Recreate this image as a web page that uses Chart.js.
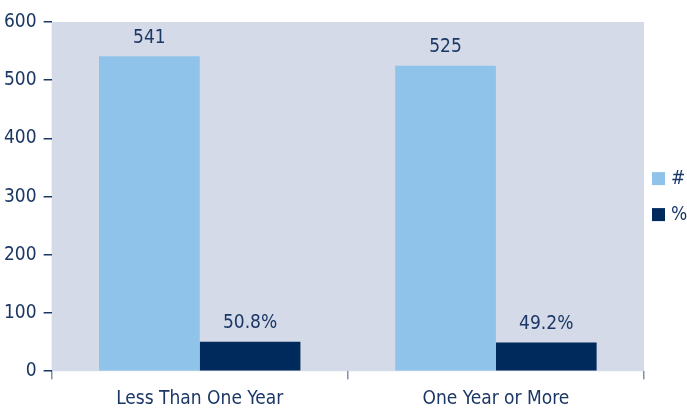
<!DOCTYPE html>
<html><head><meta charset="utf-8">
<script src="https://cdn.jsdelivr.net/npm/chart.js@4/dist/chart.umd.min.js"></script>
<style>html,body{margin:0;padding:0;background:#fff}#wrap{width:687px;height:415px}</style>
</head><body><div id="wrap"><canvas id="c"></canvas></div>
<script>
const categories = ["Less Than One Year", "One Year or More"];
const countValues = [541, 525];
const percentValues = [50.8, 49.2];
const yTicks = [0, 100, 200, 300, 400, 500, 600];
const FONT = "'DejaVu Sans Condensed'";
const NAVY = '#1b3766';

const bgPlugin = {
  id: 'bg',
  beforeDraw(chart) {
    const {ctx, chartArea: a} = chart;
    ctx.save(); ctx.fillStyle = '#d5dae8';
    ctx.fillRect(a.left, a.top, a.right - a.left, a.bottom - a.top);
    ctx.restore();
  }
};
const labelPlugin = {
  id: 'vals',
  afterDatasetsDraw(chart) {
    const ctx = chart.ctx;
    ctx.save();
    ctx.font = "19px " + FONT; ctx.fillStyle = NAVY;
    ctx.textAlign = 'center'; ctx.textBaseline = 'bottom';
    chart.data.datasets.forEach((ds, i) => {
      chart.getDatasetMeta(i).data.forEach((bar, j) => {
        const t = i === 0 ? String(ds.data[j]) : ds.data[j].toFixed(1) + '%';
        ctx.fillText(t, bar.x, bar.y - 9);
      });
    });
    ctx.restore();
  }
};
const legendPlugin = {
  id: 'sideLegend',
  afterDraw(chart) {
    const ctx = chart.ctx, a = chart.chartArea;
    const cy = (a.top + a.bottom) / 2;
    ctx.save();
    ctx.font = "19px " + FONT; ctx.textBaseline = 'middle'; ctx.textAlign = 'left';
    chart.data.datasets.forEach((ds, i) => {
      const y = cy - 18 + i * 36;
      ctx.fillStyle = ds.backgroundColor;
      ctx.fillRect(a.right + 8, y - 6.5, 13, 13);
      ctx.fillStyle = NAVY;
      ctx.fillText(ds.label, a.right + 27, y);
    });
    ctx.restore();
  }
};

new Chart(document.getElementById('c'), {
  type: 'bar',
  data: {
    labels: categories,
    datasets: [
      {label: '#', data: countValues, backgroundColor: '#8fc3ea'},
      {label: '%', data: percentValues, backgroundColor: '#00295c'}
    ]
  },
  options: {
    responsive: true, maintainAspectRatio: false, animation: false,
    layout: {padding: {top: 22, right: 43, bottom: -3, left: -3}},
    categoryPercentage: 0.68, barPercentage: 1.0,
    plugins: {
      legend: {display: false},
      tooltip: {enabled: false}
    },
    scales: {
      x: {
        grid: {offset: true, drawOnChartArea: false, tickLength: 8, color: '#7f8fb0', lineWidth: 1.5},
        border: {display: false},
        ticks: {color: NAVY, font: {family: FONT, size: 19}, padding: 8}
      },
      y: {
        min: 0, max: 600,
        afterBuildTicks(axis) { axis.ticks = yTicks.map(v => ({value: v})); },
        grid: {drawOnChartArea: false, tickLength: 8, color: NAVY, lineWidth: 1.5},
        border: {display: false},
        ticks: {color: NAVY, font: {family: FONT, size: 19}, padding: 7}
      }
    }
  },
  plugins: [bgPlugin, labelPlugin, legendPlugin]
});
</script></body></html>
